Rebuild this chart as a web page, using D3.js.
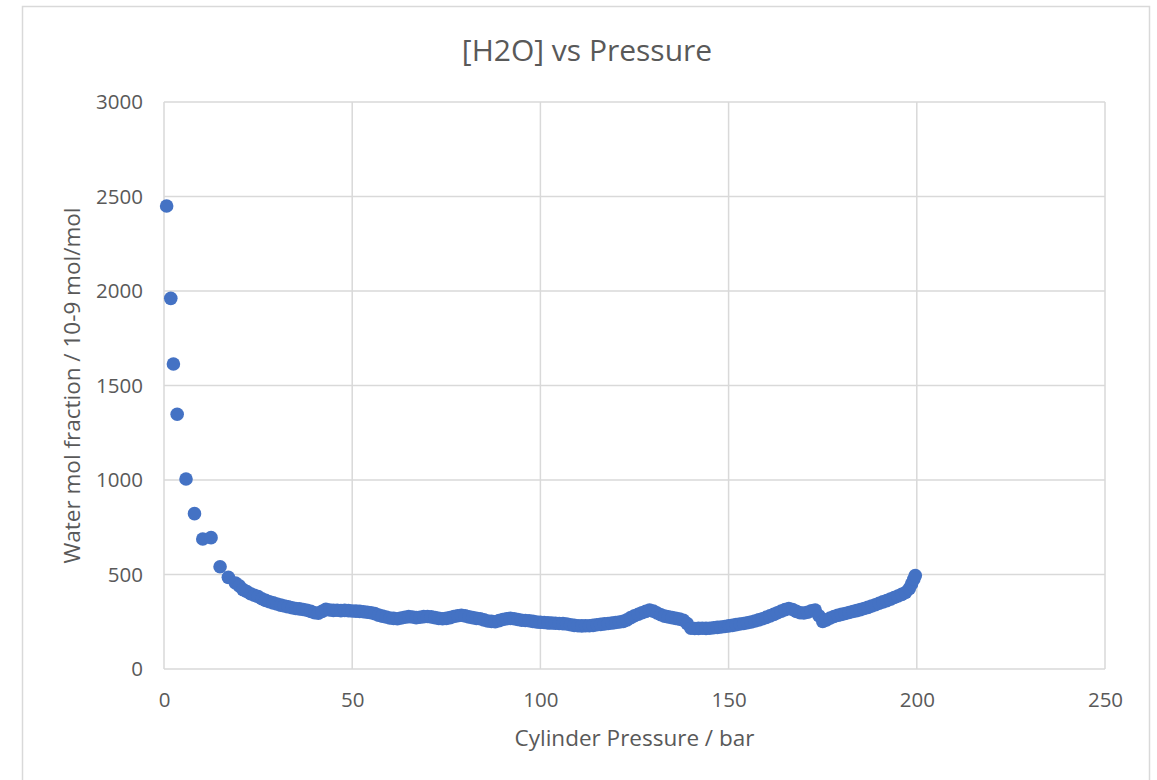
<!DOCTYPE html>
<html>
<head>
<meta charset="utf-8">
<script src="https://cdn.jsdelivr.net/npm/d3@7"></script>
<style>
  body { margin: 0; background: #fff; }
  text { font-family: "Segoe UI", "Open Sans", sans-serif; fill: #595959; }
</style>
</head>
<body>
<script>
// chart data
var pressure = [0.7, 1.8, 2.5, 3.5, 5.85, 8.1, 10.3, 12.5, 14.9, 17.1,
  19, 20, 21, 22, 23, 24, 25, 26, 27, 28, 29, 30, 31, 32, 33, 34, 35, 36, 37, 38, 39,
  40, 41, 42, 43, 44, 45, 46, 47, 48, 49, 50, 51, 52, 53, 54, 55, 56, 57, 58, 59,
  60, 61, 62, 63, 64, 65, 66, 67, 68, 69, 70, 71, 72, 73, 74, 75, 76, 77, 78, 79,
  80, 81, 82, 83, 84, 85, 86, 87, 88, 89, 90, 91, 92, 93, 94, 95, 96, 97, 98, 99,
  100, 101, 102, 103, 104, 105, 106, 107, 108, 109, 110, 111, 112, 113, 114, 115, 116, 117, 118, 119,
  120, 121, 122, 123, 124, 125, 126, 127, 128, 129, 130, 131, 132, 133, 134, 135, 136, 137, 138, 139,
  140, 141, 142, 143, 144, 145, 146, 147, 148, 149, 150, 151, 152, 153, 154, 155, 156, 157, 158, 159,
  160, 161, 162, 163, 164, 165, 166, 167, 168, 169, 170, 171, 172, 173, 174, 175, 176, 177, 178, 179,
  180, 181, 182, 183, 184, 185, 186, 187, 188, 189, 190, 191, 192, 193, 194, 195, 196, 197, 198,
  198.6, 199.2, 199.6];

var water = [2450, 1961, 1614, 1348, 1005, 822, 688, 695, 541, 485,
  455, 440, 420, 410, 398, 390, 383, 372, 363, 356, 350, 344, 338, 333, 329, 324, 320, 318, 315, 311, 305,
  298, 295, 305, 316, 312, 310, 311, 309, 310, 309, 307, 306, 305, 303, 300, 298, 293, 285, 280, 275,
  270, 268, 266, 270, 274, 277, 275, 272, 274, 277, 278, 276, 272, 268, 266, 268, 272, 278, 282, 284,
  281, 276, 272, 268, 266, 260, 254, 252, 250, 256, 262, 266, 268, 266, 262, 258, 257, 255, 252, 249,
  247, 246, 244, 243, 242, 241, 240, 238, 234, 231, 229, 228, 229, 229, 231, 234, 236, 239, 241, 243,
  246, 249, 252, 260, 272, 282, 290, 298, 305, 312, 306, 296, 287, 280, 276, 272, 268, 264, 258, 240,
  216, 214, 215, 216, 215, 216, 218, 220, 222, 225, 228, 231, 235, 238, 241, 245, 249, 254, 260, 266,
  273, 281, 289, 298, 306, 314, 320, 315, 305, 298, 296, 300, 308, 312, 282, 252, 260, 270, 278, 284,
  289, 294, 299, 304, 309, 314, 320, 326, 333, 340, 348, 355, 362, 370, 378, 386, 395, 405, 425,
  450, 475, 495];

var xTicks = [0, 50, 100, 150, 200, 250];
var yTicks = [0, 500, 1000, 1500, 2000, 2500, 3000];

var width = 1157, height = 780;
var margin = {left: 164, right: 52, top: 102, bottom: 111};
var gridColor = "#d9d9d9";

var svg = d3.select("body").append("svg")
  .attr("width", width)
  .attr("height", height);

// outer chart frame
svg.append("rect")
  .attr("x", 22.5).attr("y", 6.5)
  .attr("width", 1127).attr("height", 800)
  .attr("fill", "#fff")
  .attr("stroke", gridColor)
  .attr("stroke-width", 1.5);

var x = d3.scaleLinear().domain([0, 250]).range([margin.left, width - margin.right]);
var y = d3.scaleLinear().domain([0, 3000]).range([height - margin.bottom, margin.top]);

// gridlines
svg.append("g").selectAll("line").data(yTicks).enter().append("line")
  .attr("x1", x(0)).attr("x2", x(250))
  .attr("y1", function(d) { return y(d); })
  .attr("y2", function(d) { return y(d); })
  .attr("stroke", gridColor).attr("stroke-width", 1.5);

svg.append("g").selectAll("line").data(xTicks).enter().append("line")
  .attr("y1", y(0)).attr("y2", y(3000))
  .attr("x1", function(d) { return x(d); })
  .attr("x2", function(d) { return x(d); })
  .attr("stroke", gridColor).attr("stroke-width", 1.5);

// axes (labels only, lines come from the grid)
var xAxis = svg.append("g")
  .attr("transform", "translate(0," + y(0) + ")")
  .call(d3.axisBottom(x).tickValues(xTicks).tickFormat(d3.format("d")).tickSize(0).tickPadding(23));
var yAxis = svg.append("g")
  .attr("transform", "translate(" + x(0) + ",0)")
  .call(d3.axisLeft(y).tickValues(yTicks).tickFormat(d3.format("d")).tickSize(0).tickPadding(21));
[xAxis, yAxis].forEach(function(a) {
  a.select(".domain").remove();
  a.selectAll("text")
    .attr("fill", "#595959")
    .style("font-size", "20.5px")
    .style("font-family", "'Segoe UI', 'Open Sans', sans-serif");
});

// points
var pts = pressure.map(function(p, i) { return {p: p, w: water[i]}; });
svg.append("g").selectAll("circle").data(pts).enter().append("circle")
  .attr("cx", function(d) { return x(d.p); })
  .attr("cy", function(d) { return y(d.w); })
  .attr("r", 6.8)
  .attr("fill", "#4472c4");

// titles
svg.append("text")
  .attr("x", 587).attr("y", 61)
  .attr("text-anchor", "middle")
  .style("font-size", "30px")
  .text("[H2O] vs Pressure");

svg.append("text")
  .attr("x", (x(0) + x(250)) / 2).attr("y", 746)
  .attr("text-anchor", "middle")
  .style("font-size", "22.5px")
  .text("Cylinder Pressure / bar");

svg.append("text")
  .attr("transform", "translate(80," + (y(0) + y(3000)) / 2 + ") rotate(-90)")
  .attr("text-anchor", "middle")
  .style("font-size", "22.5px")
  .text("Water mol fraction / 10-9 mol/mol");
</script>
</body>
</html>
